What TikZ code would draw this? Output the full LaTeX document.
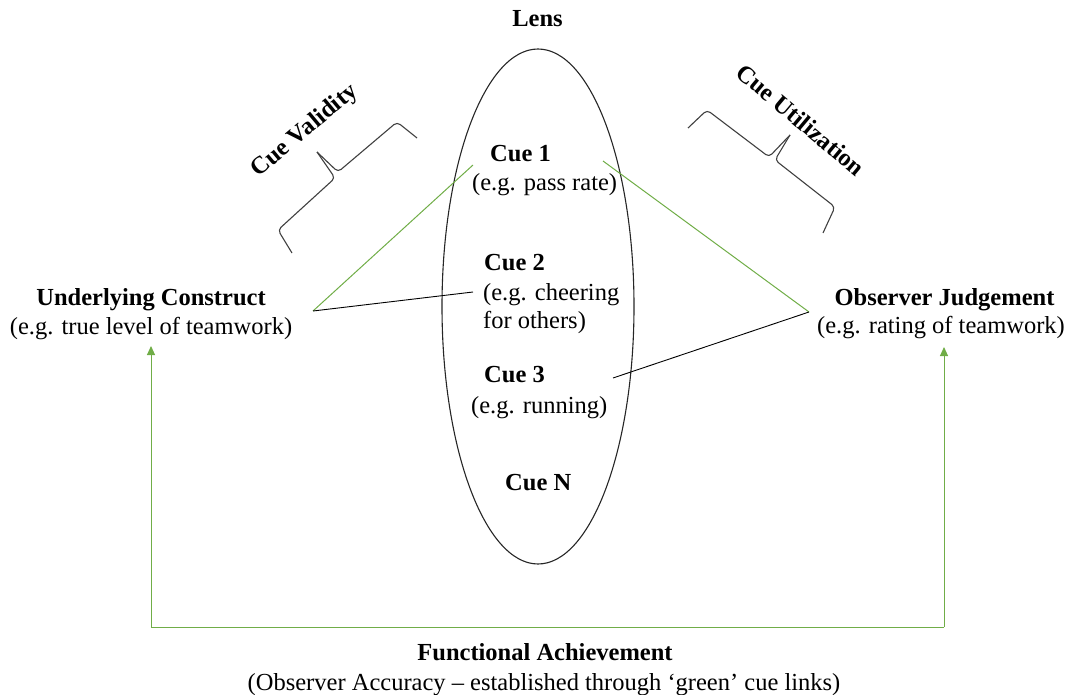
\documentclass[tikz,border=0pt]{standalone}
\usepackage{fontspec}
\setmainfont{Liberation Serif}
\usetikzlibrary{arrows.meta}
\definecolor{linkgreen}{RGB}{112,173,71}
\definecolor{bracegray}{RGB}{64,64,64}
\begin{document}
\begin{tikzpicture}[x=1pt,y=-1pt,
  every node/.style={inner sep=0pt, font=\fontsize{24.5}{29}\selectfont},
  title/.style={font=\fontsize{24.5}{29}\selectfont\bfseries},
  greenlink/.style={draw=linkgreen, line width=1pt},
  plainlink/.style={draw=black, line width=0.9pt},
  achieve/.style={draw=linkgreen, line width=1pt, -{Triangle[width=8pt,length=9pt]}},
  bracepath/.style={draw=bracegray, line width=1.1pt, rounded corners=4pt}]
\useasboundingbox (0,0) rectangle (1071,695);

% the lens
\node[title, anchor=base] (lens) at (537.5,27) {Lens};
\draw[line width=1.1pt, draw=black!85] (538,306.5) ellipse [x radius=96, y radius=257.5];

% cues inside the lens
\node[title, anchor=base west] (cue1) at (490,162) {Cue 1};
\node[anchor=base west] (cue1d) at (472,191) {(e.g. pass rate)};
\node[title, anchor=base west] (cue2) at (484,270) {Cue 2};
\node[anchor=base west] (cue2d) at (483,300) {(e.g. cheering};
\node[anchor=base west] (cue2e) at (483,328) {for others)};
\node[title, anchor=base west] (cue3) at (484,382) {Cue 3};
\node[anchor=base west] (cue3d) at (471,413) {(e.g. running)};
\node[title, anchor=base west] (cueN) at (505,490) {Cue N};

% construct and judgement
\node[title, anchor=base] (uc) at (151,305) {Underlying Construct};
\node[anchor=base] (ucd) at (151,334) {(e.g. true level of teamwork)};
\node[title, anchor=base] (oj) at (944.5,305) {Observer Judgement};
\node[anchor=base] (ojd) at (941,333) {(e.g. rating of teamwork)};

% achievement
\node[title, anchor=base] (fa) at (545,660) {Functional Achievement};
\node[anchor=base] (fad) at (544,690) {(Observer Accuracy -- established through `green' cue links)};

% link ends
\coordinate (ucport) at (313,311);
\coordinate (ojport) at (809,312);
\coordinate (c1in) at (473,165);
\coordinate (c1out) at (603,161);
\coordinate (c2in) at (473,292);
\coordinate (c3out) at (613,378);
\coordinate (ucfoot) at (151,627);
\coordinate (ojfoot) at (944,627);
\coordinate (uctip) at (151,346);
\coordinate (ojtip) at (944,347);

% cue links
\draw[greenlink] (ucport) -- (c1in);
\draw[plainlink] (ucport) -- (c2in);
\draw[greenlink] (c1out) -- (ojport);
\draw[plainlink] (ojport) -- (c3out);

% functional achievement loop
\draw[greenlink] (ucfoot) -- (ojfoot);
\draw[achieve] (ucfoot) -- (uctip);
\draw[achieve] (ojfoot) -- (ojtip);

% cue validity brace
\draw[bracepath] (292,253) -- (278,230) -- (335,178) -- (317,152);
\draw[bracepath] (317,152) -- (338,172) -- (397,122) -- (417,138);
\node[title, rotate=40] (cv) at (305,131) {Cue Validity};

% cue utilization brace
\draw[bracepath] (688,128) -- (707,110) -- (769,157) -- (790,135);
\draw[bracepath] (790,135) -- (775,160) -- (835,207) -- (823,233);
\node[title, rotate=-40] (cu) at (801,120) {Cue Utilization};
\end{tikzpicture}
\end{document}
